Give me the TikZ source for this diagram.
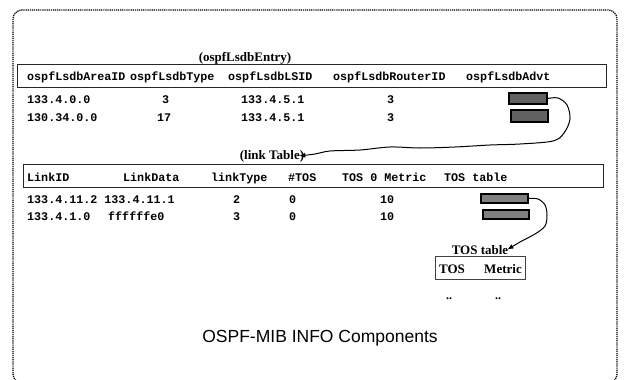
\documentclass[tikz,border=0pt]{standalone}
\usepackage{fontspec}
\setmainfont{Liberation Serif}
\setmonofont{Liberation Mono}
\setsansfont{Liberation Sans}
\usetikzlibrary{arrows.meta}

\begin{document}
\begin{tikzpicture}[x=1pt,y=-1pt,
  cell/.style={anchor=base west,inner sep=0pt,font=\ttfamily\bfseries\fontsize{11.7}{13}\selectfont},
  caption/.style={anchor=base,inner sep=0pt,font=\bfseries\fontsize{13}{15}\selectfont},
  hdr/.style={draw=black!85,line width=0.9pt,anchor=north west,inner sep=0pt},
  slot/.style={draw=black,line width=1.1pt,inner sep=0pt},
  link/.style={line width=1pt,-{Latex[length=6pt,width=5pt]}}]
\useasboundingbox (0,0) rectangle (624,380);

% outer dotted frame
\begin{scope}
  \clip (0,0) rectangle (624,380);
  \draw[line width=1.3pt,dash pattern=on 1.2pt off 0.9pt,rounded corners=9pt]
    (13,10) rectangle (617,383);
\end{scope}

% ---- ospfLsdbEntry table ----
\node[caption] (entry) at (245,61) {(ospfLsdbEntry)};
\node[hdr,minimum width=589pt,minimum height=23pt] (entryhdr) at (17,64) {};
\node[cell] (h1) at (27,80)  {ospfLsdbAreaID};
\node[cell] (h2) at (130,80) {ospfLsdbType};
\node[cell] (h3) at (228,80) {ospfLsdbLSID};
\node[cell] (h4) at (333,80) {ospfLsdbRouterID};
\node[cell] (h5) at (466,80) {ospfLsdbAdvt};

\node[cell] (r1a) at (27,103)  {133.4.0.0};
\node[cell] (r1b) at (162,103) {3};
\node[cell] (r1c) at (241,103) {133.4.5.1};
\node[cell] (r1d) at (387,103) {3};
\node[cell] (r2a) at (27,121)  {130.34.0.0};
\node[cell] (r2b) at (157,121) {17};
\node[cell] (r2c) at (241,121) {133.4.5.1};
\node[cell] (r2d) at (387,121) {3};

\node[slot,fill=black!62,minimum width=38pt,minimum height=11pt] (adv1) at (528,98.5) {};
\node[slot,fill=black!62,minimum width=37pt,minimum height=12pt] (adv2) at (529.5,116) {};

% ---- link table ----
\node[caption] (lt) at (272,159) {(link Table)};
\node[hdr,minimum width=580pt,minimum height=23pt] (linkhdr) at (23,164) {};
\node[cell] (k1) at (27,181)  {LinkID};
\node[cell] (k2) at (123,181) {LinkData};
\node[cell] (k3) at (211,181) {linkType};
\node[cell] (k4) at (288,181) {\#TOS};
\node[cell] (k5) at (342,181) {TOS 0 Metric};
\node[cell] (k6) at (444,181) {TOS table};

\node[cell] (l1a) at (27,203)  {133.4.11.2 133.4.11.1};
\node[cell] (l1b) at (233,203) {2};
\node[cell] (l1c) at (289,203) {0};
\node[cell] (l1d) at (380,203) {10};
\node[cell] (l2a) at (27,220)  {133.4.1.0};
\node[cell] (l2b) at (108,220) {ffffffe0};
\node[cell] (l2c) at (233,220) {3};
\node[cell] (l2d) at (289,220) {0};
\node[cell] (l2e) at (380,220) {10};

\node[slot,fill=black!50,minimum width=47pt,minimum height=9pt] (ts1) at (504.5,198.5) {};
\node[slot,fill=black!50,minimum width=46pt,minimum height=9pt] (ts2) at (506,214.5) {};

% ---- TOS table ----
\node[caption] (tt) at (480,254) {TOS table};
\node[hdr,draw=black!75,line width=0.8pt,minimum width=90pt,minimum height=23pt] (toshdr) at (435,256) {};
\node[caption] (t1) at (452,273) {TOS};
\node[caption] (t2) at (503,273) {Metric};
\node[caption,font=\bfseries\fontsize{12}{14}\selectfont] (d1) at (449,299) {..};
\node[caption,font=\bfseries\fontsize{12}{14}\selectfont] (d2) at (498,299) {..};

% ---- connectors ----
\draw[link] plot[smooth,tension=0.55] coordinates {(adv1.east) (558,98) (567,105) (570,119)
  (564,133) (553,141) (520,144) (490,145) (455,147) (420,148) (390,147) (360,150)
  (330,151) (315,154) ([xshift=-5pt]lt.east)};
\draw[link] plot[smooth,tension=0.55] coordinates {(ts1.east) (538,199) (545,205) (547,215)
  (545,226) (535,234) (520,242) ([xshift=-1pt]tt.east)};

% ---- title ----
\node[inner sep=0pt,font=\sffamily\fontsize{17.5}{20}\selectfont] (title) at (320,338) {OSPF-MIB INFO Components};
\end{tikzpicture}
\end{document}
